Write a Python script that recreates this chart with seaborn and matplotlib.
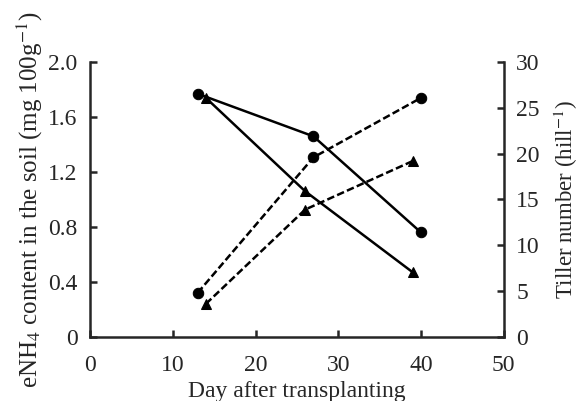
import pandas as pd
import seaborn as sns
import matplotlib.pyplot as plt

# days after transplanting
days_circle = [13, 27, 40]
days_triangle = [14, 26, 39]

# eNH4 content in the soil (mg 100g-1), left axis
nh4_circle = [1.77, 1.46, 0.76]
nh4_triangle = [1.74, 1.06, 0.47]

# tiller number (hill-1), right axis
tiller_circle = [4.8, 19.6, 26.1]
tiller_triangle = [3.6, 13.9, 19.2]

sns.set_style("ticks")
plt.rcParams['font.family'] = ['Liberation Serif', 'DejaVu Serif']
plt.rcParams['mathtext.fontset'] = 'stix'
plt.rcParams['axes.linewidth'] = 1.8

fig = plt.figure(figsize=(5.81, 4.01), dpi=100)
ax = fig.add_axes([0.155, 0.160, 0.712, 0.685])
ax2 = ax.twinx()

df_nh4_c = pd.DataFrame({"day": days_circle, "val": nh4_circle})
df_nh4_t = pd.DataFrame({"day": days_triangle, "val": nh4_triangle})
df_til_c = pd.DataFrame({"day": days_circle, "val": tiller_circle})
df_til_t = pd.DataFrame({"day": days_triangle, "val": tiller_triangle})

kw = dict(x="day", y="val", color="black", linewidth=1.8, markersize=7.5,
          markeredgecolor="black", estimator=None, sort=False)
sns.lineplot(data=df_nh4_c, ax=ax, marker="o", **kw)
sns.lineplot(data=df_nh4_t, ax=ax, marker="^", **kw)
sns.lineplot(data=df_til_c, ax=ax2, marker="o", linestyle=(0, (3, 1.3)), **kw)
sns.lineplot(data=df_til_t, ax=ax2, marker="^", linestyle=(0, (3, 1.3)), **kw)

ax.set_xlim(0, 50)
ax.set_ylim(0, 2.0)
ax2.set_ylim(0, 30)
ax.set_xticks([0, 10, 20, 30, 40, 50])
ax.set_yticks([0, 0.4, 0.8, 1.2, 1.6, 2.0])
ax.set_yticklabels(["0", "0.4", "0.8", "1.2", "1.6", "2.0"])
ax2.set_yticks([0, 5, 10, 15, 20, 25, 30])

for a in (ax, ax2):
    a.tick_params(direction="in", length=5, width=1.8, labelsize=17)
    a.spines["top"].set_visible(False)
ax.tick_params(axis="y", pad=9)
ax.tick_params(axis="x", pad=13)
ax2.tick_params(axis="y", pad=9)
ax.spines["right"].set_visible(False)
ax2.spines["left"].set_visible(False)
ax2.spines["bottom"].set_visible(False)
ax2.spines["right"].set_linewidth(1.8)

ax.set_xlabel("Day after transplanting", fontsize=17, labelpad=4)
ax.set_ylabel("eNH$_4$ content in the soil (mg 100g$^{-1}$)", fontsize=18, labelpad=2)
ax2.set_ylabel("Tiller number (hill$^{-1}$)", fontsize=16.5, labelpad=9)

plt.savefig("out.png", dpi=100)
